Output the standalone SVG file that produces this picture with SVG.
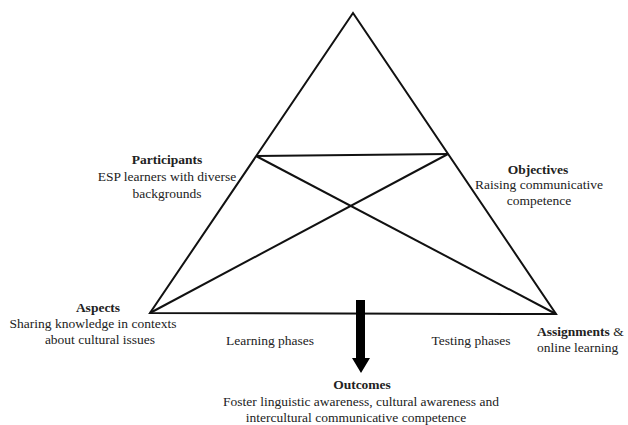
<svg xmlns="http://www.w3.org/2000/svg" width="628" height="425" viewBox="0 0 628 425">
<style>
text{font-family:"Liberation Serif","Times New Roman",serif;font-size:13.5px;fill:#222}
.b{font-weight:bold}
.c{text-anchor:middle}
.ln{stroke:#111;stroke-width:2;fill:none;stroke-linejoin:miter}
</style>
<rect width="628" height="425" fill="#fff"/>
<g id="connectors">
<polygon class="ln" points="353,13 150,313 556,314"/>
<line class="ln" x1="256" y1="156" x2="448" y2="154"/>
<line class="ln" x1="256" y1="156" x2="556" y2="314"/>
<line class="ln" x1="448" y1="154" x2="150" y2="313"/>
<polygon points="356,300 365,300 365,358 370,358 361,373 352,358 356,358" fill="#000"/>
</g>
<g id="participants">
<text class="b c" x="167" y="164">Participants</text>
<text class="c" x="167" y="181">ESP learners with diverse</text>
<text class="c" x="167" y="198">backgrounds</text>
</g>
<g id="objectives">
<text class="b c" x="538" y="174">Objectives</text>
<text class="c" x="539" y="189">Raising communicative</text>
<text class="c" x="539" y="205">competence</text>
</g>
<g id="aspects">
<text class="b c" x="98" y="312">Aspects</text>
<text class="c" x="93" y="328">Sharing knowledge in contexts</text>
<text class="c" x="100" y="344">about cultural issues</text>
</g>
<g id="learning">
<text class="c" x="270" y="345">Learning phases</text>
</g>
<g id="testing">
<text class="c" x="471" y="345">Testing phases</text>
</g>
<g id="assignments">
<text x="537" y="336"><tspan class="b">Assignments</tspan> &amp;</text>
<text x="537" y="352">online learning</text>
</g>
<g id="outcomes">
<text class="b c" x="362" y="389">Outcomes</text>
<text class="c" x="361" y="406">Foster linguistic awareness, cultural awareness and</text>
<text class="c" x="356" y="422">intercultural communicative competence</text>
</g>
</svg>
